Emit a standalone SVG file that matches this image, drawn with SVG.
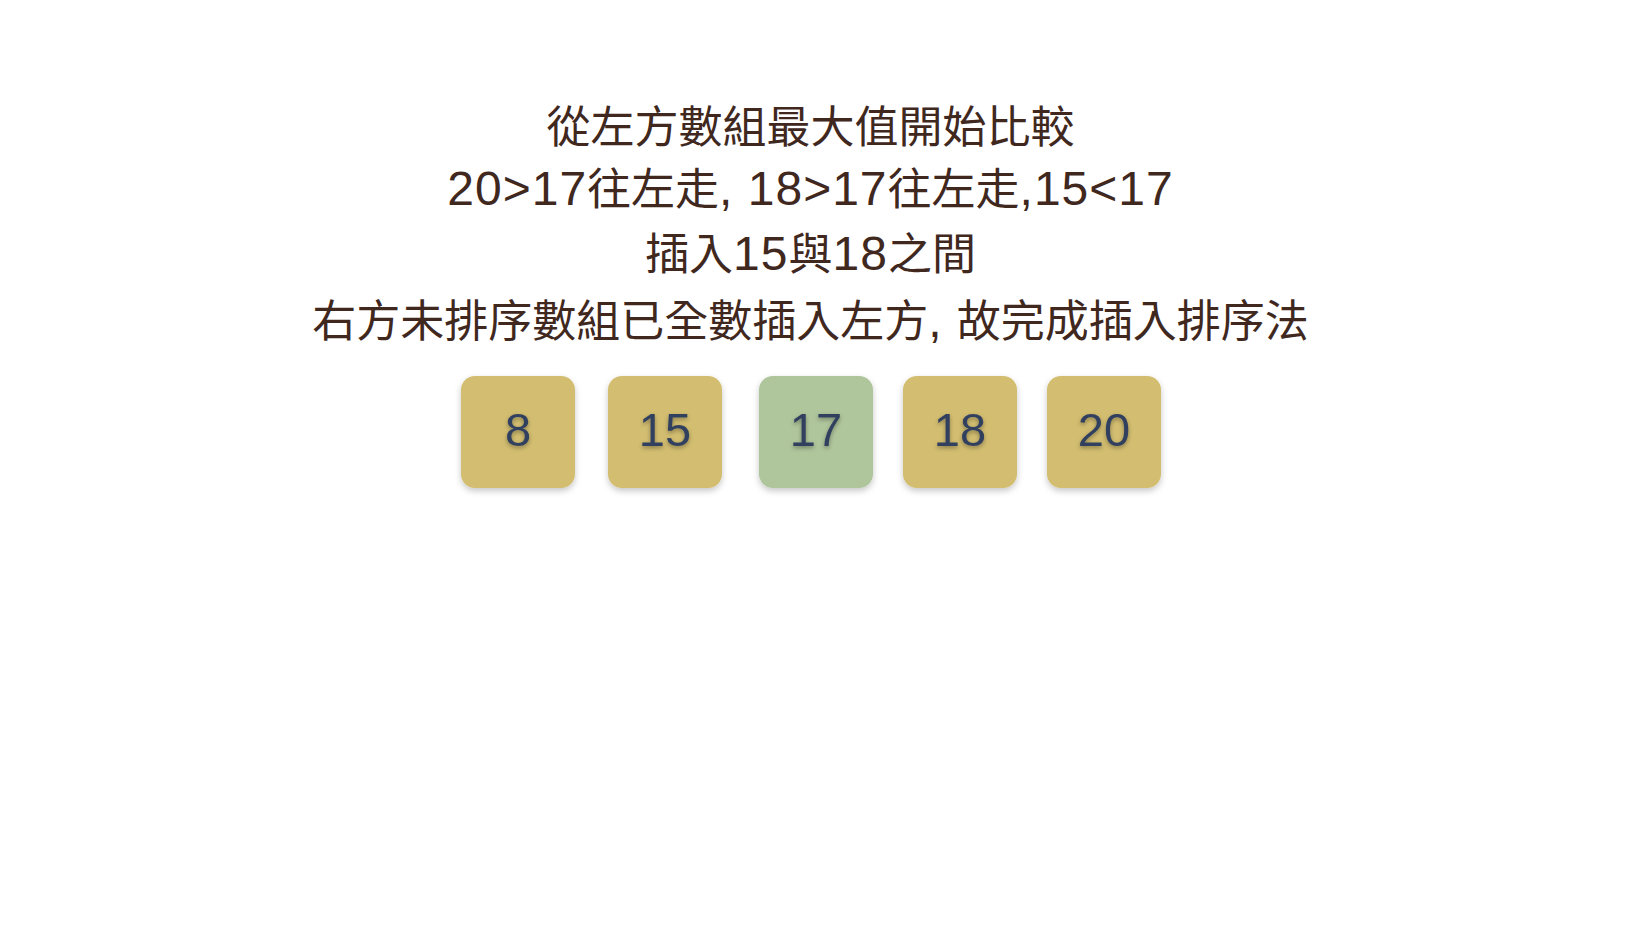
<svg xmlns="http://www.w3.org/2000/svg" width="1644" height="928" viewBox="0 0 1644 928">
<defs>
<filter id="boxShadow" x="-20%" y="-20%" width="140%" height="150%">
<feDropShadow dx="0" dy="3" stdDeviation="3" flood-color="#000" flood-opacity="0.22"/>
</filter>
<filter id="txtShadow" x="-30%" y="-30%" width="160%" height="160%">
<feDropShadow dx="0" dy="2" stdDeviation="2" flood-color="#000" flood-opacity="0.35"/>
</filter>
</defs>
<style>
.t { font-family: "Liberation Sans", "Noto Sans CJK TC", sans-serif; font-size: 44px; fill: #40281e; text-anchor: middle; }
.l { font-size: 48px; letter-spacing: 1px; }
.gold { fill: #d2bd70; }
.green { fill: #afc59b; }
.num { font-family: "Liberation Sans", Arial, sans-serif; font-size: 47px; fill: #33405e; text-anchor: middle; filter: url(#txtShadow); }
</style>
<rect width="1644" height="928" fill="#ffffff"/>
<g id="caption">
<text class="t" x="810.5" y="143">從左方數組最大值開始比較</text>
<text class="t" x="810.5" y="205"><tspan class="l">20&gt;17</tspan>往左走<tspan class="l">, 18&gt;17</tspan>往左走<tspan class="l">,15&lt;17</tspan></text>
<text class="t" x="810.5" y="270">插入<tspan class="l">15</tspan>與<tspan class="l">18</tspan>之間</text>
<text class="t" x="810.5" y="337">右方未排序數組已全數插入左方<tspan class="l">, </tspan>故完成插入排序法</text>
</g>
<g id="node-8">
<rect class="gold" x="461" y="376" width="114" height="112" rx="14" filter="url(#boxShadow)"/>
<text class="num" x="518" y="446">8</text>
</g>
<g id="node-15">
<rect class="gold" x="608" y="376" width="114" height="112" rx="14" filter="url(#boxShadow)"/>
<text class="num" x="665" y="446">15</text>
</g>
<g id="node-17">
<rect class="green" x="759" y="376" width="114" height="112" rx="14" filter="url(#boxShadow)"/>
<text class="num" x="816" y="446">17</text>
</g>
<g id="node-18">
<rect class="gold" x="903" y="376" width="114" height="112" rx="14" filter="url(#boxShadow)"/>
<text class="num" x="960" y="446">18</text>
</g>
<g id="node-20">
<rect class="gold" x="1047" y="376" width="114" height="112" rx="14" filter="url(#boxShadow)"/>
<text class="num" x="1104" y="446">20</text>
</g>
<g id="connectors"></g>
</svg>
